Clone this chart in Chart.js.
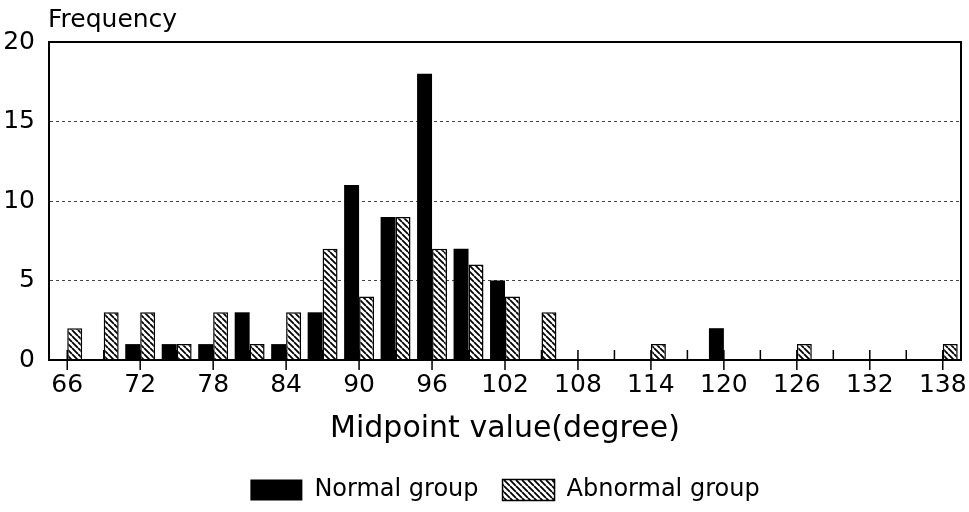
<!DOCTYPE html>
<html><head><meta charset="utf-8">
<script src="https://cdn.jsdelivr.net/npm/chart.js@4.4.1/dist/chart.umd.min.js"></script>
<style>html,body{margin:0;padding:0;background:#fff}#wrap{width:969px;height:512px;position:relative}</style>
</head><body><div id="wrap"><canvas id="c"></canvas></div>
<script>
// ---- data ----
const categories = ['66','69','72','75','78','81','84','87','90','93','96','99','102','105','108','111','114','117','120','123','126','129','132','135','138'];
const normalGroup   = [0,0,1,1,1,3,1,3,11,9,18,7,5,0,0,0,0,0,2,0,0,0,0,0,0];
const abnormalGroup = [2,3,3,1,3,1,3,7,4,9,7,6,4,3,0,0,1,0,0,0,1,0,0,0,1];
const seriesNames = ['Normal group','Abnormal group'];
const yTicks = [0,5,10,15,20];
const yAxisLabel = 'Frequency';
const xAxisLabel = 'Midpoint value(degree)';

const FONT = "'DejaVu Sans', sans-serif";
Chart.defaults.font.family = FONT;
Chart.defaults.color = '#000';

function hatchPattern(){
  const s = 6, c = document.createElement('canvas');
  c.width = s; c.height = s;
  const g = c.getContext('2d');
  g.fillStyle = '#fff'; g.fillRect(0,0,s,s);
  g.strokeStyle = '#000'; g.lineWidth = 1.8;
  g.beginPath();
  for (const x0 of [-s, 0, s]) { g.moveTo(x0, 0); g.lineTo(x0 + s, s); }
  g.stroke();
  return g.createPattern(c, 'repeat');
}
const hatch = hatchPattern();

const decor = {
  id: 'decor',
  afterDraw(chart){
    const {ctx, chartArea: a, scales: {x}} = chart;
    ctx.save();
    // frame
    ctx.strokeStyle = '#000'; ctx.lineWidth = 2;
    ctx.strokeRect(a.left, a.top, a.right - a.left, a.bottom - a.top);
    // x tick marks (major every other category)
    ctx.lineWidth = 1.5;
    ctx.beginPath();
    for (let i = 0; i < categories.length; i++) {
      const px = x.getPixelForTick(i);
      if (i % 2 === 0) { ctx.moveTo(px, a.bottom - 10); ctx.lineTo(px, a.bottom + 10); }
      else { ctx.moveTo(px, a.bottom - 10); ctx.lineTo(px, a.bottom); }
    }
    ctx.stroke();
    // y axis caption
    ctx.fillStyle = '#000';
    ctx.font = '25px ' + FONT;
    ctx.textAlign = 'left'; ctx.textBaseline = 'middle';
    ctx.fillText(yAxisLabel, a.left - 1, 20);
    ctx.restore();
  }
};

new Chart(document.getElementById('c'), {
  type: 'bar',
  data: {
    labels: categories,
    datasets: [
      { label: seriesNames[0], data: normalGroup, backgroundColor: '#000', borderColor: '#000', borderWidth: 0 },
      { label: seriesNames[1], data: abnormalGroup, backgroundColor: hatch, borderColor: '#000', borderWidth: 1.5 }
    ]
  },
  options: {
    responsive: true,
    maintainAspectRatio: false,
    animation: false,
    layout: { padding: { top: 42, left: 3, right: 8, bottom: 0 } },
    datasets: { bar: { categoryPercentage: 0.82, barPercentage: 1.0 } },
    plugins: {
      tooltip: { enabled: false },
      legend: {
        position: 'bottom',
        fullSize: false,
        labels: { boxWidth: 52, boxHeight: 21, padding: 24, font: { size: 24 }, color: '#000' }
      }
    },
    scales: {
      x: {
        type: 'category',
        grid: { display: false, drawTicks: false },
        border: { display: true, color: '#000', width: 2 },
        ticks: {
          autoSkip: false, maxRotation: 0, minRotation: 0, padding: 10,
          font: { size: 25 }, color: '#000',
          callback: (v, i) => (i % 2 === 0 ? categories[i] : '')
        },
        title: { display: true, text: xAxisLabel, font: { size: 30 }, color: '#000', padding: { top: 0, bottom: 7 } },
        afterFit: (s) => { s.height = 94; s.paddingLeft = 0; s.paddingRight = 0; }
      },
      y: {
        min: yTicks[0], max: yTicks[yTicks.length - 1],
        afterBuildTicks: (s) => { s.ticks = yTicks.map(v => ({ value: v })); },
        grid: {
          drawTicks: false, lineWidth: 1,
          color: (c) => (c.tick && (c.tick.value === 0 || c.tick.value === 20)) ? 'rgba(0,0,0,0)' : '#444'
        },
        border: { display: true, color: '#000', width: 2, dash: [3, 3] },
        ticks: { padding: 14, font: { size: 25 }, color: '#000' },
        afterFit: (s) => { s.width = 46; s.paddingTop = 0; s.paddingBottom = 0; }
      }
    }
  },
  plugins: [decor]
});
</script></body></html>
